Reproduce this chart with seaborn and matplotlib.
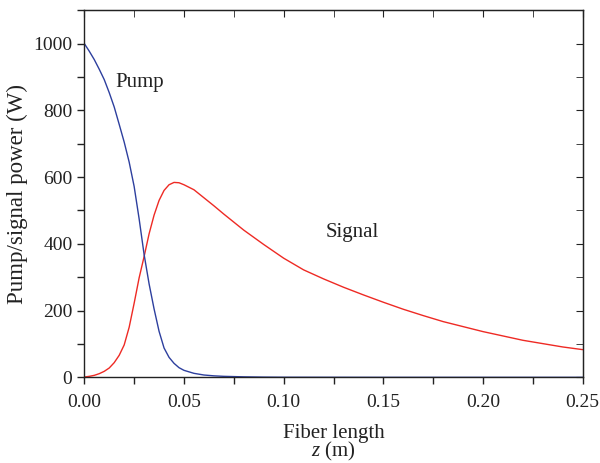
import numpy as np
import pandas as pd
import seaborn as sns
import matplotlib
matplotlib.use("Agg")
import matplotlib.pyplot as plt
from matplotlib.ticker import MultipleLocator

# Data
z_pump = [0.0, 0.0025, 0.005, 0.0075, 0.010, 0.0125, 0.015, 0.0175, 0.020, 0.0225,
          0.025, 0.0275, 0.030, 0.0325, 0.035, 0.0375, 0.040, 0.0425, 0.045, 0.0475,
          0.050, 0.055, 0.060, 0.065, 0.070, 0.080, 0.090, 0.100, 0.150, 0.200, 0.250]
pump = [1000, 977, 952, 923, 892, 853, 810, 758, 705, 645,
        572, 475, 368, 280, 205, 138, 88, 60, 42, 29,
        21, 12, 7, 4.5, 3, 1.5, 0.7, 0.3, 0, 0, 0]

z_signal = [0.0, 0.0025, 0.005, 0.0075, 0.010, 0.0125, 0.015, 0.0175, 0.020, 0.0225,
            0.025, 0.0275, 0.030, 0.0325, 0.035, 0.0375, 0.040, 0.0425, 0.045, 0.0475,
            0.050, 0.055, 0.060, 0.065, 0.070, 0.075, 0.080, 0.090, 0.100, 0.110,
            0.120, 0.130, 0.140, 0.150, 0.160, 0.170, 0.180, 0.190, 0.200, 0.210,
            0.220, 0.230, 0.240, 0.250]
signal = [1, 3, 6, 11, 18, 28, 44, 66, 97, 150,
          222, 298, 362, 430, 486, 530, 560, 577, 584, 583,
          577, 562, 538, 514, 489, 465, 441, 398, 357, 322,
          295, 270, 247, 225, 204, 185, 167, 152, 137, 124,
          111, 101, 91, 83]

x_ticks = [0.00, 0.05, 0.10, 0.15, 0.20, 0.25]
y_ticks = [0, 200, 400, 600, 800, 1000]

sns.set_style("ticks")
plt.rcParams['font.family'] = ['Liberation Serif', 'DejaVu Serif']
plt.rcParams['mathtext.fontset'] = 'custom'
plt.rcParams['mathtext.it'] = 'Liberation Serif:italic'
plt.rcParams['mathtext.rm'] = 'Liberation Serif'

fig = plt.figure(figsize=(6, 4.63), dpi=100)
ax = fig.add_axes([0.1405, 0.185, 0.8307, 0.793])

df_p = pd.DataFrame({"z": z_pump, "P": pump})
df_s = pd.DataFrame({"z": z_signal, "P": signal})
sns.lineplot(data=df_s, x="z", y="P", ax=ax, color="#ee2a24", linewidth=1.0)
sns.lineplot(data=df_p, x="z", y="P", ax=ax, color="#2d3f9e", linewidth=1.0)

ax.set_xlim(0, 0.25)
ax.set_ylim(0, 1100)
ax.set_xticks(x_ticks)
ax.set_xticklabels([f"{v:.2f}" for v in x_ticks])
ax.set_yticks(y_ticks)
ax.xaxis.set_minor_locator(MultipleLocator(0.025))
ax.yaxis.set_minor_locator(MultipleLocator(100))
ax.tick_params(which='both', direction='out', labelsize=14, color='#222222', width=1,
               length=5, labelcolor='#222222')
ax.tick_params(axis='x', pad=7)

for s in ax.spines.values():
    s.set_visible(True)
    s.set_linewidth(1.0)
    s.set_color('#222222')

# top/right inward ticks
secx = ax.secondary_xaxis('top')
secx.set_xticks(x_ticks)
secx.xaxis.set_minor_locator(MultipleLocator(0.025))
secx.tick_params(which='both', direction='in', length=5, labeltop=False, color='#222222')
secy = ax.secondary_yaxis('right')
secy.set_yticks(y_ticks)
secy.yaxis.set_minor_locator(MultipleLocator(100))
secy.tick_params(which='both', direction='in', length=5, labelright=False, color='#222222')

ax.set_xlabel("Fiber length\n$z$ (m)", fontsize=15, labelpad=9, linespacing=0.85,
              color='#222222')
ax.set_ylabel("Pump/signal power (W)", fontsize=16.5, labelpad=4, color='#222222')

ax.text(0.0277, 883, "Pump", fontsize=15, ha='center', va='center', color='#222222')
ax.text(0.1346, 433, "Signal", fontsize=15, ha='center', va='center', color='#222222')

fig.savefig("out.png", dpi=100)
